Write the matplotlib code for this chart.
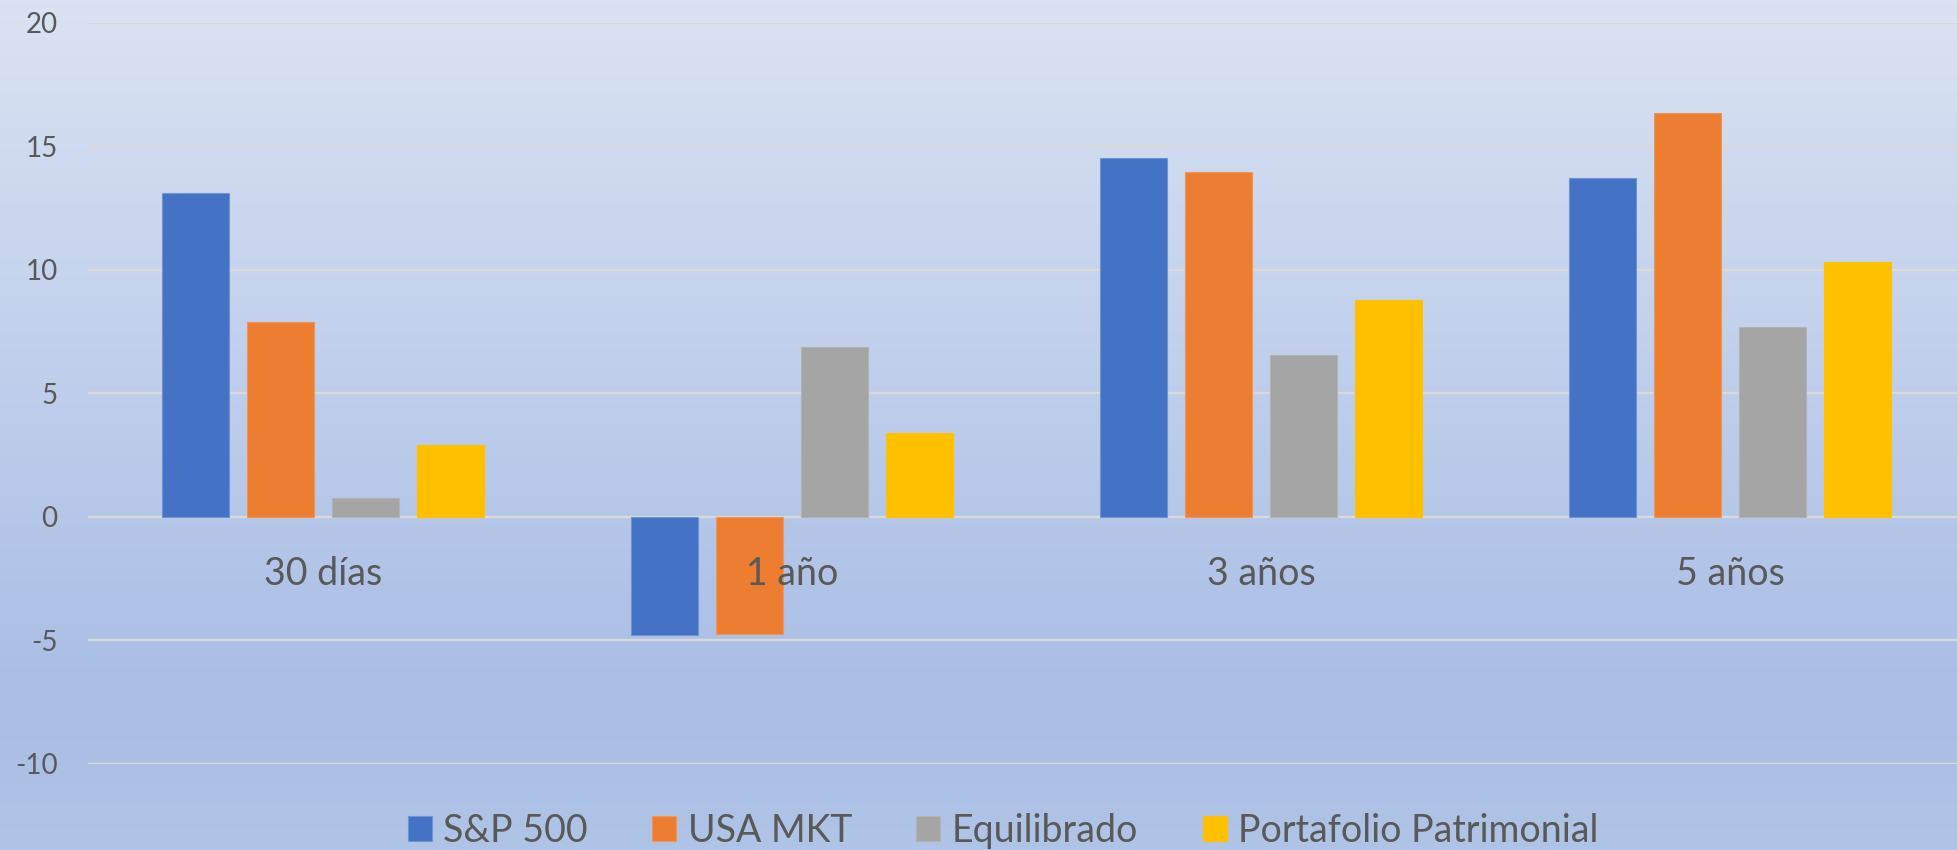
import matplotlib.pyplot as plt
import numpy as np
from matplotlib.colors import LinearSegmentedColormap

categories = ['30 días', '1 año', '3 años', '5 años']
series_names = ['S&P 500', 'USA MKT', 'Equilibrado', 'Portafolio Patrimonial']
sp500 = [13.13, -4.79, 14.55, 13.72]
usa_mkt = [7.88, -4.74, 13.97, 16.37]
equilibrado = [0.76, 6.87, 6.56, 7.69]
patrimonial = [2.89, 3.38, 8.77, 10.31]
yticks = [-10, -5, 0, 5, 10, 15, 20]

colors = ['#4472C4', '#ED7D31', '#A5A5A5', '#FFC000']
edge_colors = ['#6F94D6', '#F0955A', '#B3B3B3', '#FFC000']
text_color = '#595959'
grid_color = '#D9D9D9'

plt.rcParams['font.family'] = ['Lato', 'DejaVu Sans']

fig = plt.figure(figsize=(19.57, 8.5), dpi=100)

# gradient background over the whole figure
bg = fig.add_axes([0, 0, 1, 1], zorder=-10)
grad = LinearSegmentedColormap.from_list(
    'bg', [(0.0, '#DAE3F3'), (0.82, '#A9BDE5'), (1.0, '#B0C4E7')])
bg.imshow(np.linspace(0, 1, 256).reshape(-1, 1), aspect='auto', cmap=grad,
          extent=[0, 1, 0, 1], origin='upper')
bg.set_axis_off()

ax = fig.add_axes([88 / 1957, 86.3 / 850, 1877 / 1957, 740.7 / 850])
ax.patch.set_alpha(0)

x = np.arange(len(categories))
step = 0.181
width = 0.1428
all_series = [sp500, usa_mkt, equilibrado, patrimonial]
for i, (name, vals) in enumerate(zip(series_names, all_series)):
    ax.bar(x + (i - 1.5) * step, vals, width, color=colors[i], label=name,
           edgecolor=edge_colors[i], linewidth=0.8, zorder=3)

ax.set_xlim(-0.5, 3.5)
ax.set_ylim(-10, 20)
ax.set_yticks(yticks)
ax.set_yticklabels([str(t) for t in yticks], fontsize=20, color=text_color)
ax.tick_params(axis='y', length=0, pad=22)
ax.set_xticks([])
ax.yaxis.grid(True, color=grid_color, linewidth=1.7, zorder=0)
for s in ax.spines.values():
    s.set_visible(False)

# category labels sit just under the zero line
for xi, cat in zip(x, categories):
    ax.text(xi, -2.77, cat, ha='center', va='baseline', fontsize=27,
            color=text_color)

fig.legend(loc='center', bbox_to_anchor=(1003 / 1957, 1 - 831 / 850), ncol=4,
           frameon=False, fontsize=27, labelcolor=text_color,
           handlelength=0.64, handleheight=0.64, handletextpad=0.3,
           columnspacing=1.72, borderpad=0, borderaxespad=0)

fig.savefig('out.png', dpi=100)
